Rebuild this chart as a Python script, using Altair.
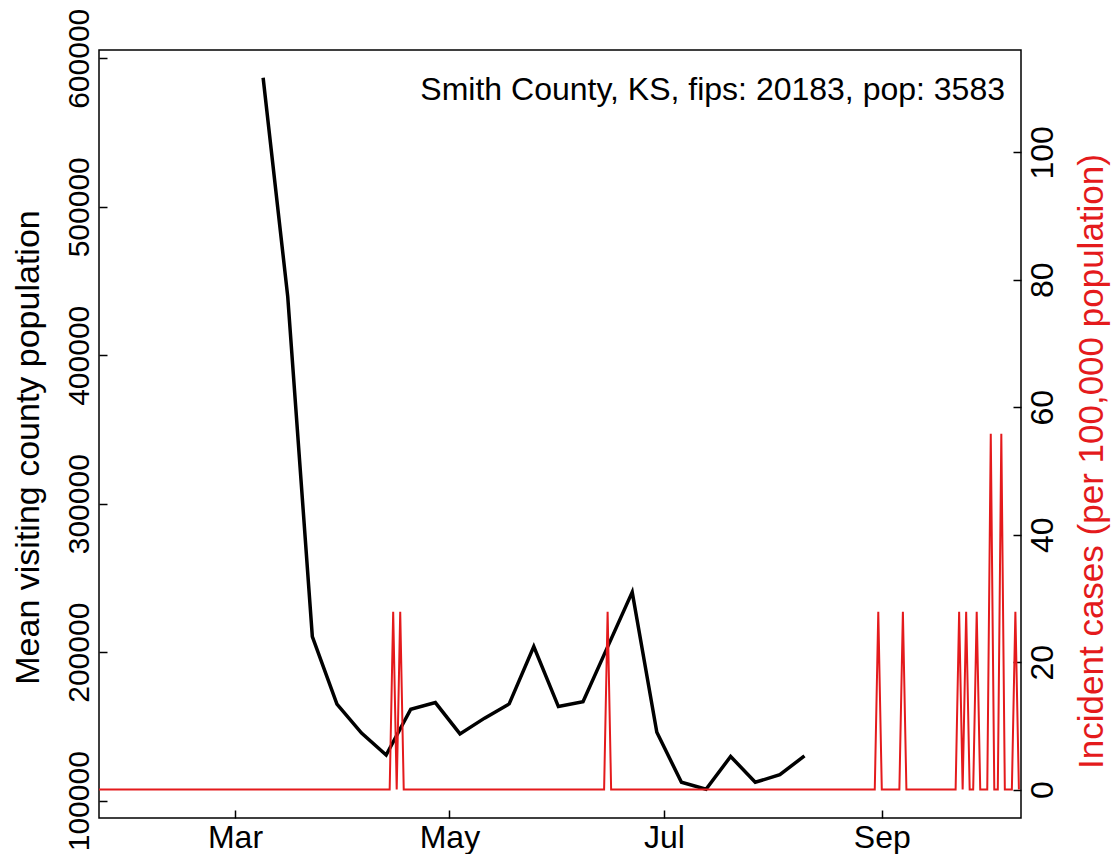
import altair as alt
import pandas as pd
from datetime import datetime, timezone, timedelta

FONT = "Liberation Sans"
RED = "#E41A1C"

# ---- weekly mean visiting county population (black line, left axis)
visit_dates = ["2020-03-09", "2020-03-16", "2020-03-23", "2020-03-30", "2020-04-06",
               "2020-04-13", "2020-04-20", "2020-04-27", "2020-05-04", "2020-05-11",
               "2020-05-18", "2020-05-25", "2020-06-01", "2020-06-08", "2020-06-15",
               "2020-06-22", "2020-06-29", "2020-07-06", "2020-07-13", "2020-07-20",
               "2020-07-27", "2020-08-03", "2020-08-10"]
visit_values = [586900, 439500, 210500, 165000, 145500,
                130800, 161600, 166100, 145000, 155600,
                165200, 203800, 163400, 166700, 203600,
                240500, 146100, 112400, 107700, 129800,
                112400, 117500, 130200]

# ---- daily incident cases per 100,000 (red line, right axis); all other days are 0
case_start = "2020-01-22"
case_end = "2020-10-10"
case_dates = ["2020-04-15", "2020-04-17", "2020-06-15", "2020-08-31", "2020-09-07",
              "2020-09-23", "2020-09-25", "2020-09-28", "2020-10-02", "2020-10-05",
              "2020-10-09"]
case_values = [27.91, 27.91, 27.91, 27.91, 27.91,
               27.91, 27.91, 27.91, 55.82, 55.82,
               27.91]

left_ticks = [100000, 200000, 300000, 400000, 500000, 600000]
right_ticks = [0, 20, 40, 60, 80, 100]
month_ticks = ["2020-03-01", "2020-05-01", "2020-07-01", "2020-09-01"]
annotation = "Smith County, KS, fips: 20183, pop: 3583"

# ---- build tables
visits = pd.DataFrame({"date": visit_dates, "value": visit_values})
spikes = dict(zip(case_dates, case_values))
days = pd.date_range(case_start, case_end, freq="D").strftime("%Y-%m-%d").tolist()
cases = pd.DataFrame({"date": days, "cases": [spikes.get(d, 0.0) for d in days]})


def ms(s, extra_days=0.0):
    d = datetime.strptime(s, "%Y-%m-%d").replace(tzinfo=timezone.utc) + timedelta(days=extra_days)
    return d.timestamp() * 1000


x_domain = [ms("2020-03-01", -38.69), ms("2020-03-01", 223.6)]
x_scale = alt.Scale(type="utc", domain=x_domain)
x_axis = alt.Axis(values=[ms(m) for m in month_ticks],
                  labelExpr="utcFormat(datum.value, '%b')",
                  title=None, grid=False, domain=False, offset=-8, tickSize=8,
                  tickWidth=1.5, tickColor="black", labelFontSize=32, labelFont=FONT,
                  labelColor="black", labelPadding=29, labelBaseline="alphabetic",
                  labelAlign="center", labelFlush=False, labelOverlap=False)

left_axis = alt.Axis(values=left_ticks, format="d", grid=False, domain=False, offset=-8,
                     tickSize=8, tickWidth=1.5, tickColor="black", labelFontSize=30,
                     labelFont=FONT, labelColor="black", labelAngle=270, labelAlign="center",
                     labelBaseline="alphabetic", labelPadding=11, labelOverlap=False,
                     labelFlush=False,
                     title="Mean visiting county population", titleFont=FONT,
                     titleFontSize=34, titleFontWeight="normal", titleColor="black",
                     titleAngle=270, titleAlign="center", titleBaseline="alphabetic",
                     titleX=-69, titleY=397)

right_axis = alt.Axis(values=right_ticks, orient="right", format="d", grid=False,
                      domain=False, offset=-8, tickSize=8, tickWidth=1.5, tickColor="black",
                      labelFontSize=32, labelFont=FONT, labelColor="black", labelAngle=270,
                      labelAlign="center", labelBaseline="alphabetic", labelPadding=31,
                      labelOverlap=False, labelFlush=False,
                      title="Incident cases (per 100,000 population)", titleFont=FONT,
                      titleFontSize=35, titleFontWeight="normal", titleColor=RED,
                      titleAngle=270, titleAlign="center", titleBaseline="alphabetic",
                      titleX=89, titleY=411)

red = alt.Chart(cases).mark_line(color=RED, strokeWidth=2, clip=True).encode(
    x=alt.X("date:T", scale=x_scale, axis=x_axis),
    y=alt.Y("cases:Q", scale=alt.Scale(domain=[-4.46, 116.06], nice=False, zero=False),
            axis=right_axis),
)

black = alt.Chart(visits).mark_line(color="black", strokeWidth=3.5, strokeJoin="miter",
                                    clip=True).encode(
    x=alt.X("date:T", scale=x_scale, axis=x_axis),
    y=alt.Y("value:Q", scale=alt.Scale(domain=[88350, 605600], nice=False, zero=False),
            axis=left_axis),
)

label = alt.Chart(pd.DataFrame({"t": [annotation]})).mark_text(
    font=FONT, fontSize=32, align="right", baseline="alphabetic", color="black"
).encode(text="t:N", x=alt.value(906), y=alt.value(50))

chart = alt.layer(black, red, label).resolve_scale(y="independent").properties(
    width=922, height=768,
    autosize=alt.AutoSizeParams(type="none"),
    padding={"left": 91, "top": 42, "right": 90, "bottom": 36},
).configure_view(stroke="black", strokeWidth=1.5)

chart.save("out.html", embed_options={"renderer": "svg", "actions": False})
